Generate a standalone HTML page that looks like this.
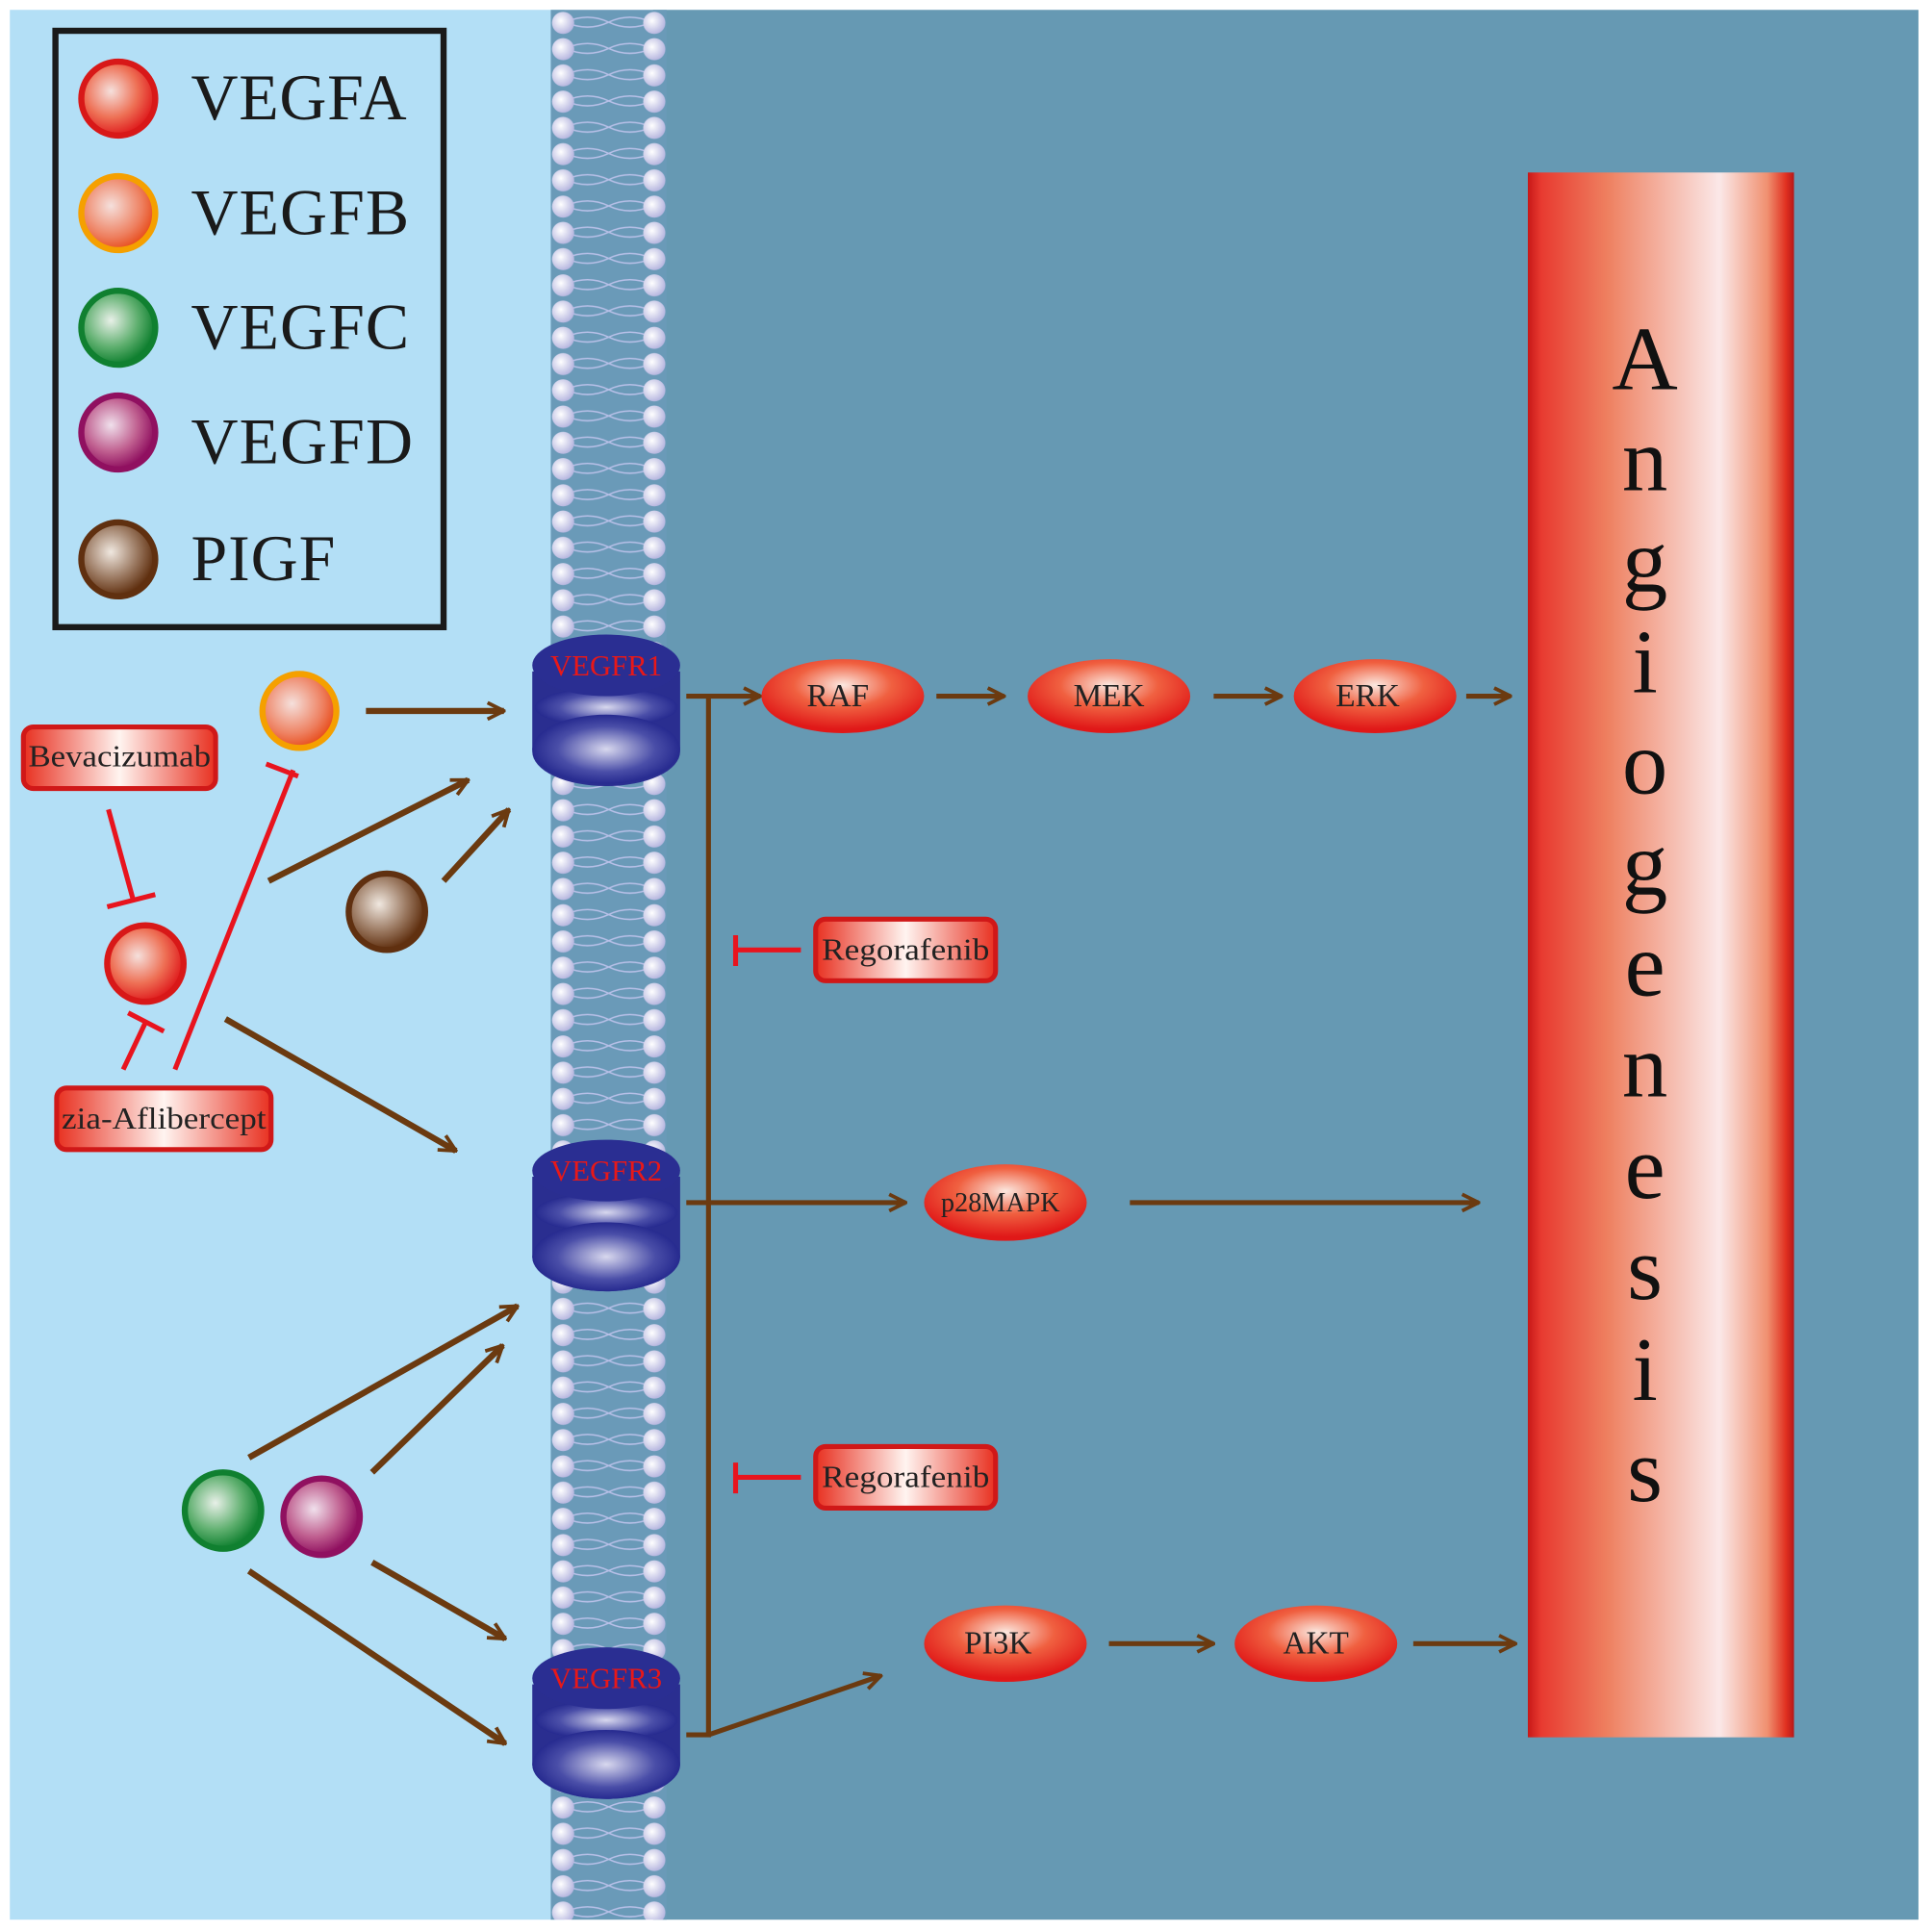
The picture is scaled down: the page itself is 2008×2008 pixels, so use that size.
<!DOCTYPE html>
<html><head><meta charset="utf-8"><style>html,body{margin:0;padding:0;background:#fff}svg{display:block}</style></head>
<body>
<svg width="2008" height="2008" viewBox="0 0 1568 1568" xmlns="http://www.w3.org/2000/svg" font-family="Liberation Serif, serif">
<defs>
<radialGradient id="gA" cx="40%" cy="40%" r="60%"><stop offset="0" stop-color="#f5e0dc"/><stop offset="0.6" stop-color="#ee7055"/><stop offset="1" stop-color="#e02020"/></radialGradient>
<radialGradient id="gB" cx="40%" cy="40%" r="60%"><stop offset="0" stop-color="#f5e0dc"/><stop offset="0.7" stop-color="#ee8060"/><stop offset="1" stop-color="#e85020"/></radialGradient>
<radialGradient id="gC" cx="40%" cy="40%" r="60%"><stop offset="0" stop-color="#e8f0e8"/><stop offset="0.6" stop-color="#60b070"/><stop offset="1" stop-color="#108030"/></radialGradient>
<radialGradient id="gD" cx="40%" cy="40%" r="60%"><stop offset="0" stop-color="#f0e0ec"/><stop offset="0.6" stop-color="#c06090"/><stop offset="1" stop-color="#901060"/></radialGradient>
<radialGradient id="gP" cx="40%" cy="40%" r="60%"><stop offset="0" stop-color="#f0e8e0"/><stop offset="0.6" stop-color="#9a7860"/><stop offset="1" stop-color="#603010"/></radialGradient>
<radialGradient id="gN" cx="50%" cy="35%" r="60%"><stop offset="0" stop-color="#fbe8e0"/><stop offset="0.5" stop-color="#f06040"/><stop offset="1" stop-color="#e01818"/></radialGradient>
<radialGradient id="gR" cx="50%" cy="50%" r="55%"><stop offset="0" stop-color="#d8d8ee"/><stop offset="0.6" stop-color="#4a4ea8"/><stop offset="1" stop-color="#1c2088"/></radialGradient>
<linearGradient id="gBox" x1="0" x2="1"><stop offset="0" stop-color="#e83020"/><stop offset="0.5" stop-color="#fff4f0"/><stop offset="1" stop-color="#e83020"/></linearGradient>
<linearGradient id="gBar" x1="0" x2="1"><stop offset="0" stop-color="#c81818"/><stop offset="0.05" stop-color="#e83a30"/><stop offset="0.3" stop-color="#ee8060"/><stop offset="0.72" stop-color="#fbe8e8"/><stop offset="0.9" stop-color="#f09070"/><stop offset="0.97" stop-color="#e03020"/><stop offset="1" stop-color="#b81818"/></linearGradient>
<radialGradient id="gHead" cx="40%" cy="40%" r="60%"><stop offset="0" stop-color="#ffffff"/><stop offset="1" stop-color="#b8b8e0"/></radialGradient>
<pattern id="mem" x="447" y="8" width="94" height="21.3" patternUnits="userSpaceOnUse">
<rect width="94" height="21.3" fill="#6a9ab8"/>
<path d="M12 10 Q30 2 47 10 Q64 18 82 10 M12 10 Q30 18 47 10 Q64 2 82 10" stroke="#b8c0e8" stroke-width="1.2" fill="none"/>
<circle cx="10" cy="10.6" r="9" fill="url(#gHead)"/>
<circle cx="84" cy="10.6" r="9" fill="url(#gHead)"/>
</pattern>
<marker id="ar" viewBox="0 0 12 12" refX="11" refY="6" markerWidth="16" markerHeight="16" orient="auto" markerUnits="userSpaceOnUse"><path d="M1 1 L11 6 L1 11" fill="none" stroke="#6b3a10" stroke-width="2.2"/></marker>
</defs>
<rect width="1568" height="1568" fill="#fff"/>
<rect x="8" y="8" width="450" height="1550" fill="#b3dff6"/>
<rect x="530" y="8" width="1027" height="1550" fill="#6699b3"/>
<rect x="447" y="8" width="94" height="1550" fill="url(#mem)"/>

<!-- legend -->
<rect x="45" y="25" width="315" height="484" fill="none" stroke="#1a1a1a" stroke-width="5"/>
<g font-size="53" fill="#1a1a1a">
<circle cx="96" cy="80" r="30" fill="url(#gA)" stroke="#d81818" stroke-width="5"/><text x="155" y="97" textLength="175">VEGFA</text>
<circle cx="96" cy="173" r="30" fill="url(#gB)" stroke="#f5a000" stroke-width="5"/><text x="155" y="190" textLength="177">VEGFB</text>
<circle cx="96" cy="266" r="30" fill="url(#gC)" stroke="#108030" stroke-width="5"/><text x="155" y="283" textLength="177">VEGFC</text>
<circle cx="96" cy="351" r="30" fill="url(#gD)" stroke="#901060" stroke-width="5"/><text x="155" y="376" textLength="180">VEGFD</text>
<circle cx="96" cy="454" r="30" fill="url(#gP)" stroke="#603010" stroke-width="5"/><text x="155" y="471" textLength="117">PIGF</text>
</g>

<!-- ligand balls -->
<circle cx="243" cy="577" r="30" fill="url(#gB)" stroke="#f5a000" stroke-width="5"/>
<circle cx="314" cy="740" r="31" fill="url(#gP)" stroke="#603010" stroke-width="5"/>
<circle cx="118" cy="782" r="31" fill="url(#gA)" stroke="#d81818" stroke-width="5"/>
<circle cx="181" cy="1226" r="31" fill="url(#gC)" stroke="#108030" stroke-width="5"/>
<circle cx="261" cy="1231" r="31" fill="url(#gD)" stroke="#901060" stroke-width="5"/>

<!-- drug boxes -->
<g font-size="25" fill="#222" text-anchor="middle">
<rect x="19" y="590" width="156" height="50" rx="8" fill="url(#gBox)" stroke="#d01818" stroke-width="4"/><text x="97" y="622" textLength="148" lengthAdjust="spacingAndGlyphs">Bevacizumab</text>
<rect x="46" y="883" width="174" height="50" rx="8" fill="url(#gBox)" stroke="#d01818" stroke-width="4"/><text x="133" y="916" textLength="166" lengthAdjust="spacingAndGlyphs">zia-Aflibercept</text>
<rect x="662" y="746" width="146" height="50" rx="8" fill="url(#gBox)" stroke="#d01818" stroke-width="4"/><text x="735" y="779" textLength="136" lengthAdjust="spacingAndGlyphs">Regorafenib</text>
<rect x="662" y="1174" width="146" height="50" rx="8" fill="url(#gBox)" stroke="#d01818" stroke-width="4"/><text x="735" y="1207" textLength="136" lengthAdjust="spacingAndGlyphs">Regorafenib</text>
</g>

<!-- inhibitions -->
<g stroke="#e8141e" stroke-width="4" fill="none">
<path d="M88 657 L108 730 M87 736 L126 726"/>
<path d="M142 868 L238 625 M216 620 L242 630"/>
<path d="M100 868 L118 830 M104 822 L133 837"/>
<path d="M597 771 L650 771 M597 759 L597 784"/>
<path d="M597 1199 L650 1199 M597 1187 L597 1212"/>
</g>

<!-- ligand arrows -->
<g stroke="#6b3a10" stroke-width="5" fill="none" marker-end="url(#ar)">
<path d="M297 577 L409 577"/>
<path d="M218 715 L380 633"/>
<path d="M360 715 L413 657"/>
<path d="M183 827 L370 934"/>
<path d="M202 1183 L420 1060"/>
<path d="M302 1195 L408 1092"/>
<path d="M302 1268 L410 1330"/>
<path d="M202 1275 L410 1415"/>
</g>

<!-- receptors -->
<g>
<path d="M432 545 L432 610 A60 28 0 0 0 552 610 L552 545 Z" fill="#2a2e90"/>
<ellipse cx="492" cy="574" rx="58" ry="16" fill="url(#gR)"/>
<ellipse cx="492" cy="608" rx="60" ry="28" fill="url(#gR)"/>
<ellipse cx="492" cy="540" rx="60" ry="25" fill="#2a2e92"/>
<text x="492" y="548" text-anchor="middle" font-size="24" fill="#e81818">VEGFR1</text>
</g>
<g>
<path d="M432 955 L432 1020 A60 28 0 0 0 552 1020 L552 955 Z" fill="#2a2e90"/>
<ellipse cx="492" cy="984" rx="58" ry="16" fill="url(#gR)"/>
<ellipse cx="492" cy="1020" rx="60" ry="28" fill="url(#gR)"/>
<ellipse cx="492" cy="950" rx="60" ry="25" fill="#2a2e92"/>
<text x="492" y="958" text-anchor="middle" font-size="24" fill="#e81818">VEGFR2</text>
</g>
<g>
<path d="M432 1367 L432 1432 A60 28 0 0 0 552 1432 L552 1367 Z" fill="#2a2e90"/>
<ellipse cx="492" cy="1396" rx="58" ry="16" fill="url(#gR)"/>
<ellipse cx="492" cy="1432" rx="60" ry="28" fill="url(#gR)"/>
<ellipse cx="492" cy="1362" rx="60" ry="25" fill="#2a2e92"/>
<text x="492" y="1370" text-anchor="middle" font-size="24" fill="#e81818">VEGFR3</text>
</g>

<!-- angiogenesis bar -->
<rect x="1240" y="140" width="216" height="1270" fill="url(#gBar)"/>
<g font-size="74" fill="#111" text-anchor="middle">
<text x="1335" y="316">A</text><text x="1335" y="398">n</text><text x="1335" y="480">g</text><text x="1335" y="562">i</text><text x="1335" y="644">o</text><text x="1335" y="726">g</text><text x="1335" y="808">e</text><text x="1335" y="890">n</text><text x="1335" y="972">e</text><text x="1335" y="1054">s</text><text x="1335" y="1136">i</text><text x="1335" y="1218">s</text>
</g>

<!-- pathway lines -->
<path d="M557 565 L575 565 L575 1408 L557 1408" stroke="#6b3a10" stroke-width="4" fill="none"/>
<g stroke="#6b3a10" stroke-width="4" fill="none" marker-end="url(#ar)">
<path d="M575 565 L617 565"/>
<path d="M760 565 L815 565"/>
<path d="M985 565 L1040 565"/>
<path d="M1190 565 L1226 565"/>
<path d="M557 976 L735 976"/>
<path d="M917 976 L1200 976"/>
<path d="M575 1408 L715 1360"/>
<path d="M900 1334 L985 1334"/>
<path d="M1147 1334 L1230 1334"/>
</g>

<!-- nodes -->
<g font-size="26" fill="#222" text-anchor="middle">
<ellipse cx="684" cy="565" rx="66" ry="30" fill="url(#gN)"/><text x="680" y="573">RAF</text>
<ellipse cx="900" cy="565" rx="66" ry="30" fill="url(#gN)"/><text x="900" y="573">MEK</text>
<ellipse cx="1116" cy="565" rx="66" ry="30" fill="url(#gN)"/><text x="1110" y="573">ERK</text>
<ellipse cx="816" cy="976" rx="66" ry="31" fill="url(#gN)"/><text x="812" y="983" font-size="22">p28MAPK</text>
<ellipse cx="816" cy="1334" rx="66" ry="31" fill="url(#gN)"/><text x="810" y="1342">PI3K</text>
<ellipse cx="1068" cy="1334" rx="66" ry="31" fill="url(#gN)"/><text x="1068" y="1342">AKT</text>
</g>
</svg>
</body></html>
